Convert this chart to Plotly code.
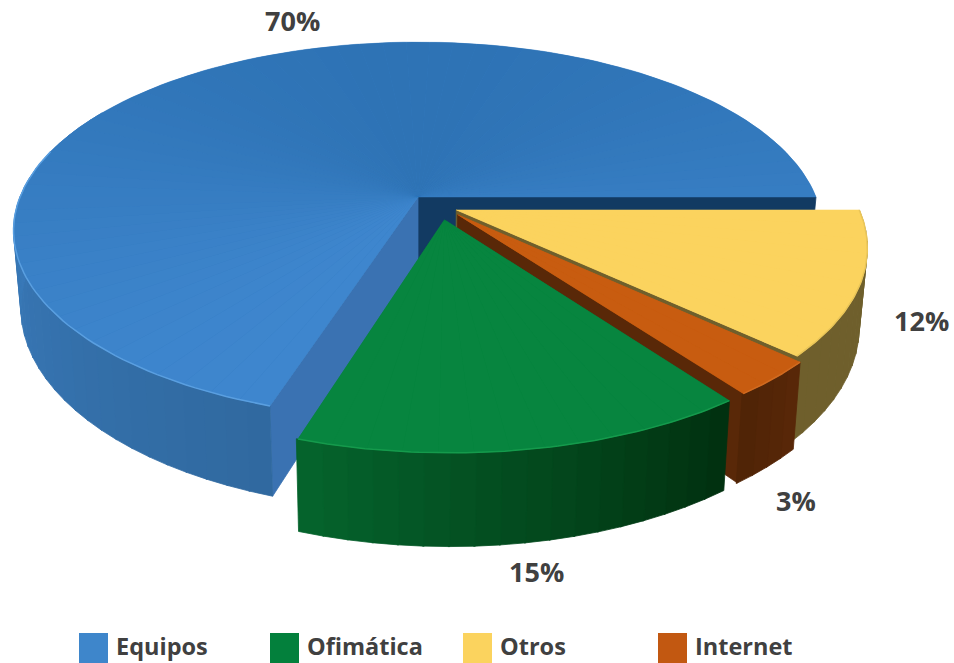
import math
import plotly.graph_objects as go

CATEGORIES = ["Equipos", "Ofimática", "Otros", "Internet"]
VALUES = [70, 15, 12, 3]
LABELS = ["70%", "15%", "12%", "3%"]

# look of each slice: top colour pair, wall colour pair, cut-face colour
TOP_A = {"Equipos": "#2e73b5", "Ofimática": "#05833e", "Otros": "#fbd35e", "Internet": "#c85c10"}
TOP_B = {"Equipos": "#3f87cf", "Ofimática": "#07853f", "Otros": "#fbd35e", "Internet": "#c85c10"}
WALL_A = {"Equipos": "#30699f", "Ofimática": "#05642d", "Otros": "#6f5f2c", "Internet": "#592808"}
WALL_B = {"Equipos": "#3d80c4", "Ofimática": "#01300f", "Otros": "#6f5f2c", "Internet": "#4f2306"}
FACE = {"Equipos": "#3a72b2", "Otros": "#6f5f2c", "Internet": "#592808"}
RIM = {"Equipos": "#5a9fe0", "Ofimática": "#159a4c", "Otros": "#e9c558", "Internet": "#d06a20"}
LEGEND_COLORS = ["#3e86cb", "#03803c", "#fbd35e", "#c25811"]
LEGEND_X = [79, 270, 463, 658]
LABEL_POS = [(292, 20), (536, 571), (921, 320), (796, 500)]

# slices in clockwise order from the 3 o'clock start, and in drawing order
CLOCKWISE = ["Otros", "Internet", "Ofimática", "Equipos"]
DRAW = ["Equipos", "Otros", "Internet", "Ofimática"]
OFFSET = {"Equipos": (0, 0), "Otros": (0.095, 0.07), "Internet": (0.098, 0.095), "Ofimática": (0.065, 0.122)}

CX, CY, BX, BY, P, DEPTH, SHRINK = 418, 197, 398, 182.5, 0.178, 75, 0.982
value_of = dict(zip(CATEGORIES, VALUES))
total = sum(VALUES)


def top(u, v):
    d = 1 - P * v
    return CX + BX * u / d, CY + BY * v / d


def bottom(u, v):
    d = 1 - P * v
    x, y = top(u, v)
    return CX + (x - CX) * SHRINK, y + DEPTH / d


def blend(a, b, t):
    t = max(0, min(1, t))
    ca = [int(a[i:i + 2], 16) for i in (1, 3, 5)]
    cb = [int(b[i:i + 2], 16) for i in (1, 3, 5)]
    return "#" + "".join(f"{round(p + (q - p) * t):02x}" for p, q in zip(ca, cb))


fig = go.Figure()


def poly(points, color, lw=0.8):
    fig.add_trace(go.Scatter(
        x=[p[0] for p in points] + [points[0][0]], y=[p[1] for p in points] + [points[0][1]],
        mode="lines", fill="toself", fillcolor=color, line=dict(color=color, width=lw),
        hoverinfo="skip", showlegend=False))


def slice_point(name, ang, r=1.0):
    ou, ov = OFFSET[name]
    a = math.radians(ang)
    return ou + r * math.sin(a), ov - r * math.cos(a)


angles = {}
start = 90.0
for name in CLOCKWISE:
    sweep = 360 * value_of[name] / total
    angles[name] = (start, start + sweep)
    start += sweep

for name in DRAW:
    a0, a1 = angles[name]
    apex = slice_point(name, 0, 0)
    # cut faces
    if name == "Equipos":
        e = slice_point(name, a1)
        poly([top(*apex), top(*e), bottom(*e), bottom(*apex)], "#123a62")
        e = slice_point(name, a0)
        poly([top(*apex), top(*e), bottom(*e), bottom(*apex)], FACE[name])
    elif name != "Ofimática":
        e = slice_point(name, a1)
        poly([top(*apex), top(*e), bottom(*e), bottom(*apex)], FACE[name])
    # outer wall, only the part facing the viewer
    w0, w1 = a0, a1
    if name == "Equipos":
        w1 = min(a1, 300)
    n = max(4, int((w1 - w0) / 3))
    for i in range(n):
        t0 = w0 + (w1 - w0) * i / n
        t1 = w0 + (w1 - w0) * (i + 1) / n + 0.2
        p0, p1 = slice_point(name, t0), slice_point(name, t1)
        frac = (i + 0.5) / n
        poly([top(*p0), top(*p1), bottom(*p1), bottom(*p0)],
             blend(WALL_A[name], WALL_B[name], 1 - frac if name == "Ofimática" else frac))
    # top surface: a solid base, then shaded sectors
    outline = [top(*apex)] + [top(*slice_point(name, a0 + (a1 - a0) * k / 120)) for k in range(121)]
    poly(outline, blend(TOP_A[name], TOP_B[name], 0.5), lw=0.5)
    n = max(3, int((a1 - a0) / 4))
    for i in range(n):
        t0 = a0 + (a1 - a0) * i / n
        t1 = a0 + (a1 - a0) * (i + 1) / n
        pts = [top(*apex)]
        for k in range(5):
            pts.append(top(*slice_point(name, t0 + (t1 - t0) * k / 4)))
        mid = math.radians((t0 + t1) / 2)
        poly(pts, blend(TOP_A[name], TOP_B[name], (1 - math.cos(mid)) / 2), lw=0)
    # bright rim along the front edge
    r0, r1 = a0, a1
    if name == "Equipos":
        r1 = min(a1, 285)
    rim = [top(*slice_point(name, r0 + (r1 - r0) * k / 60)) for k in range(61)]
    fig.add_trace(go.Scatter(x=[p[0] for p in rim], y=[p[1] for p in rim], mode="lines",
                             line=dict(color=RIM[name], width=1.5), hoverinfo="skip", showlegend=False))

INK = "#404040"
annotations = []
for text, (x, y) in zip(LABELS, LABEL_POS):
    annotations.append(dict(x=x, y=y, xref="x", yref="y", text=f"<b>{text}</b>", showarrow=False,
                            font=dict(family="Open Sans", size=27, color=INK)))
shapes = []
for name, color, x in zip(CATEGORIES, LEGEND_COLORS, LEGEND_X):
    shapes.append(dict(type="rect", xref="x", yref="y", x0=x, x1=x + 29, y0=633, y1=663,
                       fillcolor=color, line=dict(width=0)))
    annotations.append(dict(x=x + 35, y=646, xref="x", yref="y", xanchor="left", text=f"<b>{name}</b>",
                            showarrow=False, font=dict(family="Open Sans", size=23.5, color=INK)))

fig.update_layout(
    width=954, height=663, margin=dict(l=0, r=0, t=0, b=0),
    paper_bgcolor="white", plot_bgcolor="white", showlegend=False,
    xaxis=dict(range=[0, 954], visible=False, fixedrange=True),
    yaxis=dict(range=[663, 0], visible=False, fixedrange=True),
    annotations=annotations, shapes=shapes,
)
fig.write_html("out.html", config=dict(displayModeBar=False),
               post_script="document.body.style.margin='0';document.body.style.overflow='hidden';")
